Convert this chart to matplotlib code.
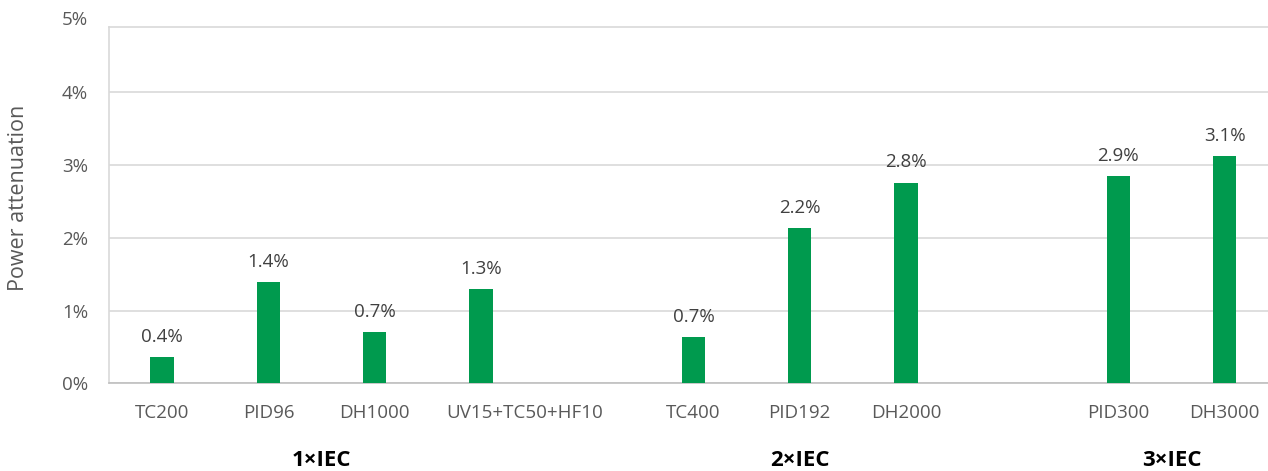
import matplotlib
matplotlib.use("Agg")
import matplotlib.pyplot as plt
import matplotlib.transforms as mtransforms

plt.rcParams['font.family'] = ['Open Sans', 'DejaVu Sans']

categories = ["TC200", "PID96", "DH1000", "UV15+TC50+HF10", "",
              "TC400", "PID192", "DH2000", "", "PID300", "DH3000"]
values = [0.366, 1.388, 0.70, 1.30, None, 0.64, 2.135, 2.76, None, 2.845, 3.125]
value_labels = ["0.4%", "1.4%", "0.7%", "1.3%", "", "0.7%", "2.2%", "2.8%", "", "2.9%", "3.1%"]
groups = ["1×IEC", "2×IEC", "3×IEC"]
group_centers = [1.5, 6, 9.5]
y_ticks = [0, 1, 2, 3, 4, 5]

GREEN = "#009A4E"
GRID = "#D9D9D9"
TXT = "#595959"

fig = plt.figure(figsize=(12.68, 4.71), dpi=100)
ax = fig.add_axes([109/1268, 1-383.3/471, (1277.8-109)/1268, (383.3-27.3)/471])

xs = list(range(len(categories)))
for x, v, lab in zip(xs, values, value_labels):
    if v is None:
        continue
    ax.bar(x, v, width=0.22, color=GREEN, zorder=3)
    ax.annotate(lab, (x, v), xytext=(0, 8), textcoords="offset points",
                ha="center", va="bottom", fontsize=13.5, color="#404040")

ax.set_xlim(-0.5, len(categories) - 0.5)
ymax = (383.3-27.3)/72.75
ax.set_ylim(0, ymax)
ax.set_yticks([t for t in y_ticks if t <= ymax])
ax.set_yticklabels([f"{t}%" for t in y_ticks if t <= ymax])
trans = mtransforms.blended_transform_factory(ax.transAxes, ax.transData)
ax.text(-21/1168.8, 5, "5%", transform=trans, ha="right", va="center",
        fontsize=13.5, color=TXT, clip_on=False)

ax.set_xticks(xs)
ax.set_xticklabels(categories)
ax.tick_params(axis="both", length=0, labelsize=13.5, colors=TXT)
ax.tick_params(axis="x", pad=15)
ax.tick_params(axis="y", pad=15)

# shift the long label right, as in the reference
for lbl in ax.get_xticklabels():
    if lbl.get_text().startswith("UV15"):
        lbl.set_transform(lbl.get_transform() +
                          mtransforms.ScaledTranslation(44/100, 0, fig.dpi_scale_trans))

ax.grid(axis="y", color=GRID, linewidth=1.2, zorder=0)
ax.spines["right"].set_visible(False)
ax.spines["top"].set_color(GRID)
ax.spines["top"].set_linewidth(1.2)
ax.spines["left"].set_color(GRID)
ax.spines["left"].set_linewidth(1.2)
ax.spines["bottom"].set_color("#BFBFBF")
ax.spines["bottom"].set_linewidth(1.2)

trans_x = mtransforms.blended_transform_factory(ax.transData, fig.transFigure)
for g, c in zip(groups, group_centers):
    ax.text(c, 1-461/471, g, transform=trans_x, ha="center", va="center",
            fontsize=16, fontweight="bold", color="black", clip_on=False)

fig.text(19/1268, 1-197.5/471, "Power attenuation", rotation=90,
         ha="center", va="center", fontsize=15.5, color=TXT)

fig.savefig("out.png", dpi=100)
